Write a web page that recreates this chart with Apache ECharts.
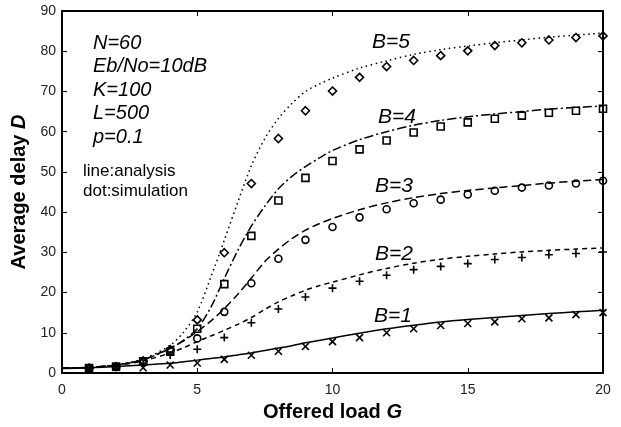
<!DOCTYPE html>
<html>
<head>
<meta charset="utf-8">
<script src="https://cdn.jsdelivr.net/npm/echarts@6/dist/echarts.min.js"></script>
<style>
  html, body { margin: 0; padding: 0; background: #fff; }
  #container { width: 621px; height: 427px; }
</style>
</head>
<body>
<div id="container"></div>
<script>
// analysis curves
let lineX  = [0, 1, 2, 3, 4, 4.5, 5, 5.5, 6, 6.5, 7, 7.5, 8, 8.5, 9, 9.5, 10, 11, 12, 13, 14, 15, 16, 17, 18, 19, 20];
let lineB5 = [1.2, 1.4, 2.0, 3.5, 6.9, 10.2, 15.2, 23.8, 33, 42.5, 51.5, 58.3, 63.3, 67, 70, 71.8, 73.3, 75.8, 77.6, 79.2, 80.4, 81.3, 82.1, 82.8, 83.5, 84.0, 84.5];
let lineB4 = [1.2, 1.4, 2.0, 3.3, 6.1, 8.2, 11.0, 16.3, 23.5, 30.5, 36.5, 41.5, 45.8, 48.9, 51.3, 53.4, 55.3, 58, 60, 61.6, 62.8, 63.7, 64.4, 65, 65.6, 66, 66.4];
let lineB3 = [1.2, 1.4, 2.0, 3.3, 6.2, 8.0, 10.3, 12.9, 16, 19.6, 23.6, 27.7, 30.8, 33.4, 35.5, 37.1, 38.4, 40.6, 42.3, 43.6, 44.6, 45.4, 46, 46.6, 47.2, 47.7, 48.1];
let lineB2 = [1.2, 1.4, 1.9, 3.0, 5.0, 6.3, 7.8, 9.2, 10.6, 12.1, 13.8, 15.8, 17.7, 19.2, 20.6, 21.7, 22.6, 24.4, 26, 27.3, 28.3, 29, 29.6, 30.1, 30.5, 30.8, 31.1];
let lineB1 = [1.1, 1.3, 1.6, 2.0, 2.4, 2.8, 3.2, 3.6, 4.0, 4.5, 5.0, 5.6, 6.2, 6.8, 7.5, 8.1, 8.7, 9.9, 11, 11.9, 12.7, 13.3, 13.8, 14.3, 14.8, 15.2, 15.6];

// simulation points
let simX  = [1, 2, 3, 4, 5, 6, 7, 8, 9, 10, 11, 12, 13, 14, 15, 16, 17, 18, 19, 20];
let simB5 = [1.2, 1.6, 3.0, 5.8, 13.2, 29.9, 47.1, 58.3, 65.2, 70.1, 73.5, 76.2, 77.7, 78.9, 80.1, 81.4, 82.1, 82.8, 83.4, 83.8];
let simB4 = [1.2, 1.6, 2.9, 5.3, 11.0, 22.1, 34.1, 42.9, 48.5, 52.7, 55.6, 57.8, 59.8, 61.3, 62.3, 63.2, 64.0, 64.7, 65.2, 65.7];
let simB3 = [1.1, 1.5, 2.6, 5.5, 8.6, 15.2, 22.3, 28.4, 33.1, 36.3, 38.7, 40.7, 42.2, 43.1, 44.4, 45.3, 46.1, 46.6, 47.1, 47.8];
let simB2 = [1.1, 1.5, 2.0, 4.5, 5.9, 8.8, 12.5, 15.9, 18.9, 21.1, 22.8, 24.3, 25.7, 26.5, 27.2, 28.2, 28.7, 29.4, 29.7, 30.1];
let simB1 = [1.0, 1.4, 1.3, 2.0, 2.5, 3.4, 4.4, 5.4, 6.6, 7.8, 8.8, 10.0, 11.0, 11.8, 12.3, 12.7, 13.5, 13.7, 14.5, 15.0];

let params = ['N=60', 'Eb/No=10dB', 'K=100', 'L=500', 'p=0.1'];
let notes = ['line:analysis', 'dot:simulation'];
let curveLabels = ['B=5', 'B=4', 'B=3', 'B=2', 'B=1'];

const zip = (xs, ys) => xs.map((x, i) => [x, ys[i]]);
const font = 'Liberation Sans, Arial, sans-serif';

function analysis(ys, type) {
    return {
        type: 'line', data: zip(lineX, ys), showSymbol: false, smooth: 0.3,
        lineStyle: { color: '#000', width: 1.5, type: type },
        z: 2
    };
}
function simulation(ys, symbol, size) {
    return {
        type: 'scatter', data: zip(simX, ys), symbol: symbol, symbolSize: size,
        itemStyle: { color: 'none', borderColor: '#000', borderWidth: 1.6, opacity: 1 },
        z: 3
    };
}

let chart = echarts.init(document.getElementById('container'));

let graphics = [];
params.forEach((t, i) => {
    graphics.push({ type: 'text', left: 93, top: 33 + i * 23.5,
        style: { text: t, font: 'italic 20px ' + font, fill: '#000' } });
});
notes.forEach((t, i) => {
    graphics.push({ type: 'text', left: 83, top: 163 + i * 20,
        style: { text: t, font: '17px ' + font, fill: '#000' } });
});
let labelPos = [[372, 32], [378, 107], [375, 176], [375, 244], [374, 306]];
curveLabels.forEach((t, i) => {
    graphics.push({ type: 'text', left: labelPos[i][0], top: labelPos[i][1],
        style: { text: t, font: 'italic 21px ' + font, fill: '#000' } });
});

const frameAxis = {
    axisLine: { show: true, onZero: false, lineStyle: { color: '#000', width: 2 } },
    axisTick: { show: true, inside: true, length: 5, lineStyle: { color: '#000', width: 1 } },
    splitLine: { show: false }
};
const titleStyle = { fontFamily: font, fontSize: 20, fontWeight: 'bold', color: '#000',
    rich: { i: { fontFamily: font, fontSize: 20, fontWeight: 'bold', fontStyle: 'italic', color: '#000' } } };

chart.setOption({
    animation: false,
    grid: { left: 62, right: 18, top: 11, bottom: 49 },
    xAxis: [Object.assign({
        type: 'value', min: 0, max: 20, interval: 5,
        name: 'Offered load {i|G}', nameLocation: 'middle', nameGap: 29,
        nameTextStyle: titleStyle,
        axisLabel: { fontFamily: font, fontSize: 14, color: '#222', margin: 10 }
    }, frameAxis), Object.assign({
        type: 'value', min: 0, max: 20, interval: 5, position: 'top',
        axisLabel: { show: false }
    }, frameAxis)],
    yAxis: [Object.assign({
        type: 'value', min: 0, max: 90, interval: 10,
        name: 'Average delay {i|D}', nameLocation: 'middle', nameGap: 33,
        nameTextStyle: titleStyle,
        axisLabel: { fontFamily: font, fontSize: 14, color: '#222', margin: 6 }
    }, frameAxis), Object.assign({
        type: 'value', min: 0, max: 90, interval: 10, position: 'right',
        axisLabel: { show: false }
    }, frameAxis)],
    graphic: graphics,
    series: [
        analysis(lineB5, [1.5, 3.5]),
        analysis(lineB4, [9, 3, 2, 3]),
        analysis(lineB3, [8, 4]),
        analysis(lineB2, [5, 4]),
        analysis(lineB1, 'solid'),
        simulation(simB5, 'diamond', [8, 8]),
        simulation(simB4, 'rect', 7),
        simulation(simB3, 'circle', 7),
        simulation(simB2, 'path://M0,5L10,5M5,0L5,10', 8),
        simulation(simB1, 'path://M0,0L10,10M10,0L0,10', 7)
    ]
});
</script>
</body>
</html>
